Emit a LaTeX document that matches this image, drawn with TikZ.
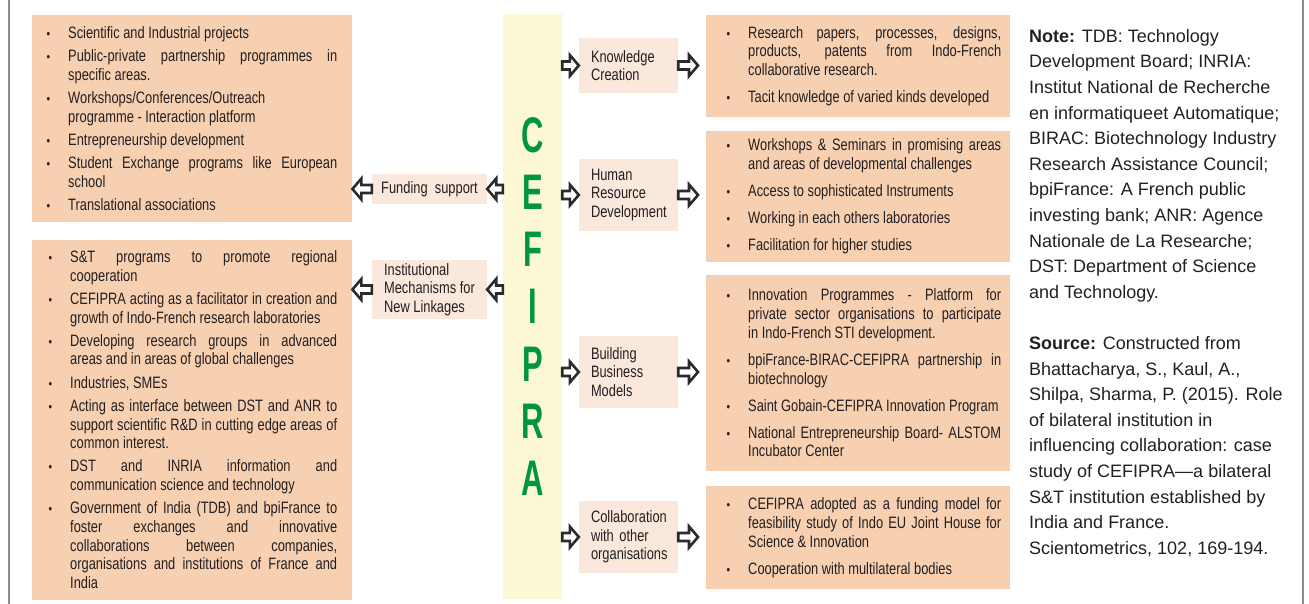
\documentclass[tikz,border=0pt]{standalone}
\usepackage{fontspec}
\setmainfont[FakeStretch=0.78]{Liberation Sans}
\newfontfamily\notefont{Liberation Sans}
\newfontfamily\cefifont[FakeStretch=0.62]{Liberation Sans}
\usetikzlibrary{calc,positioning}
\definecolor{peach}{HTML}{F7D0B2}
\definecolor{lightpeach}{HTML}{FBE8DC}
\definecolor{cream}{HTML}{FDF8D4}
\definecolor{cefgreen}{HTML}{009640}
\definecolor{ink}{HTML}{231F20}
\definecolor{arrowgray}{HTML}{2B2B2B}
\definecolor{rulegray}{HTML}{8C8C8C}
\hyphenpenalty=10000
\exhyphenpenalty=10000
\hfuzz=50pt
\hbadness=10000
\newcommand\boxfont{\fontsize{16.5pt}{18.7pt}\selectfont}
\newcommand\dotmark{{\fontsize{13pt}{13pt}\selectfont\textbullet}}
\newenvironment{bullets}[2]{\begin{list}{\dotmark}{%
    \setlength{\leftmargin}{#1}\setlength{\labelwidth}{6pt}%
    \setlength{\labelsep}{18pt}\setlength{\itemsep}{#2}%
    \setlength{\parsep}{0pt}\setlength{\topsep}{0pt}%
    \setlength{\partopsep}{0pt}}}{\end{list}}
\tikzset{
    %Define style for list boxes
    leftlist/.style={
           rectangle,
           fill=peach,
           anchor=north west,
           minimum width=320pt,
           inner sep=0pt,
           text=ink,
           font=\boxfont},
    rightlist/.style={
           leftlist,
           minimum width=304pt},
    %Define style for small boxes
    tag/.style={
           rectangle,
           fill=lightpeach,
           minimum width=115pt,
           inner sep=0pt,
           align=left,
           text=ink,
           font=\boxfont},
    stage/.style={
           rectangle,
           fill=lightpeach,
           text width=75pt,
           inner xsep=12pt,
           inner ysep=0pt,
           minimum width=99pt,
           align=left,
           text=ink,
           font=\boxfont},
    band/.style={
           rectangle,
           fill=cream,
           minimum width=59pt,
           minimum height=585pt,
           inner sep=0pt,
           align=center,
           text=cefgreen,
           font=\cefifont\bfseries\fontsize{50pt}{57.3pt}\selectfont},
    note/.style={
           anchor=north west,
           inner sep=0pt,
           align=left,
           text=ink,
           font=\notefont\fontsize{18pt}{25.6pt}\selectfont},
    frame/.style={draw=rulegray, line width=2.5pt},
    % Define arrow style
    fatarrow/.style={
           draw=arrowgray,
           line width=2.6pt,
           fill=white,
           line join=miter,
           to path={let \p1=(\tikztostart), \p2=(\tikztotarget),
             \p3=($(\p2)!9pt!(\p1)$) in
             (\x1,\y1+4pt) -- (\x3,\y1+4pt) -- (\x3,\y1+10.5pt) -- (\p2)
             -- (\x3,\y1-10.5pt) -- (\x3,\y1-4pt) -- (\x1,\y1-4pt) -- cycle}}
}
\begin{document}
\begin{tikzpicture}[x=1pt,y=-1pt]
\useasboundingbox (0,0) rectangle (1309,604);
\draw[frame] (9,0) -- (9,604);
\draw[frame] (1303,0) -- (1303,604);
\node[band] (cef) at (532.5,306.5) {C\\E\\F\\I\\P\\R\\A};
% left side
\node[leftlist, minimum height=207pt] (lbox1) at (32,15) {\begin{minipage}{290pt}\begin{bullets}{21pt}{4.5pt}
\item Scientific and Industrial projects
\item Public-private partnership programmes in\linebreak specific areas.
\item Workshops/Conferences/Outreach\linebreak programme - Interaction platform
\item Entrepreneurship development
\item Student Exchange programs like European\linebreak school
\item Translational associations
\end{bullets}\end{minipage}};
\node[leftlist, minimum height=360pt, below=17pt of lbox1] (lbox2) {\begin{minipage}{290pt}\begin{bullets}{23pt}{4.5pt}
\item S\&T programs to promote regional\linebreak cooperation
\item CEFIPRA acting as a facilitator in creation and\linebreak growth of Indo-French research laboratories
\item Developing research groups in advanced\linebreak areas and in areas of global challenges
\item Industries, SMEs
\item Acting as interface between DST and ANR to\linebreak support scientific R\&D in cutting edge areas of\linebreak common interest.
\item DST and INRIA information and\linebreak communication science and technology
\item Government of India (TDB) and bpiFrance to\linebreak foster exchanges and innovative\linebreak collaborations between companies,\linebreak organisations and institutions of France and\linebreak India
\end{bullets}\end{minipage}};
\node[tag, minimum height=30pt] (fund) at (429.5,189) {Funding~ support};
\node[tag, minimum height=59pt] (inst) at (429.5,289.5) {Institutional\\Mechanisms for\\New Linkages};
% middle column
\node[stage, minimum height=55pt] (know) at (628.5,65.5) {Knowledge\\Creation};
\node[stage, minimum height=72pt] (hrd) at (628.5,195) {Human\\Resource\\Development};
\node[stage, minimum height=72pt] (bbm) at (628.5,372) {Building\\Business\\Models};
\node[stage, minimum height=72pt] (collab) at (628.5,537) {Collaboration\\with other\\organisations};
% right side
\node[rightlist, minimum height=102pt] (r1) at (706,15) {\begin{minipage}{286pt}\begin{bullets}{33pt}{8.3pt}
\item Research papers, processes, designs,\linebreak products, patents from Indo-French\linebreak collaborative research.
\item Tacit knowledge of varied kinds developed
\end{bullets}\end{minipage}};
\node[rightlist, minimum height=131pt, below=13pt of r1] (r2) {\begin{minipage}{286pt}\begin{bullets}{33pt}{8.3pt}
\item Workshops \& Seminars in promising areas\linebreak and areas of developmental challenges
\item Access to sophisticated Instruments
\item Working in each others laboratories
\item Facilitation for higher studies
\end{bullets}\end{minipage}};
\node[rightlist, minimum height=196pt, below=13pt of r2] (r3) {\begin{minipage}{286pt}\begin{bullets}{33pt}{8.3pt}
\item Innovation Programmes - Platform for\linebreak private sector organisations to participate\linebreak in Indo-French STI development.
\item bpiFrance-BIRAC-CEFIPRA partnership in\linebreak biotechnology
\item Saint Gobain-CEFIPRA Innovation Program
\item National Entrepreneurship Board- ALSTOM\linebreak Incubator Center
\end{bullets}\end{minipage}};
\node[rightlist, minimum height=103pt, below=15pt of r3] (r4) {\begin{minipage}{286pt}\begin{bullets}{33pt}{8.3pt}
\item CEFIPRA adopted as a funding model for\linebreak feasibility study of Indo EU Joint House for\linebreak Science \& Innovation
\item Cooperation with multilateral bodies
\end{bullets}\end{minipage}};
% note
\node[note] (notes) at (1029,29) {\textbf{Note:} TDB: Technology\\Development Board; INRIA:\\Institut National de Recherche\\en informatiqueet Automatique;\\BIRAC: Biotechnology Industry\\Research Assistance Council;\\bpiFrance: A French public\\investing bank; ANR: Agence\\Nationale de La Researche;\\DST: Department of Science\\and Technology.\\[25.6pt]\textbf{Source:} Constructed from\\Bhattacharya, S., Kaul, A.,\\Shilpa, Sharma, P. (2015). Role\\of bilateral institution in\\influencing collaboration: case\\study of CEFIPRA—a bilateral\\S\&T institution established by\\India and France.\\Scientometrics, 102, 169-194.};
\path
	(cef.west |- fund) edge[fatarrow] (fund.east)
	(fund.west) edge[fatarrow] (lbox1.east |- fund)
	(cef.west |- inst) edge[fatarrow] (inst.east)
	(inst.west) edge[fatarrow] (lbox2.east |- inst)
	(cef.east |- know) edge[fatarrow] (know.west)
	(cef.east |- hrd) edge[fatarrow] (hrd.west)
	(cef.east |- bbm) edge[fatarrow] (bbm.west)
	(cef.east |- collab) edge[fatarrow] (collab.west)
	(know.east) edge[fatarrow] ($(r1.west |- know)+(-8pt,0)$)
	(hrd.east) edge[fatarrow] ($(r2.west |- hrd)+(-8pt,0)$)
	(bbm.east) edge[fatarrow] ($(r3.west |- bbm)+(-8pt,0)$)
	(collab.east) edge[fatarrow] ($(r4.west |- collab)+(-8pt,0)$);
\end{tikzpicture}
\end{document}
